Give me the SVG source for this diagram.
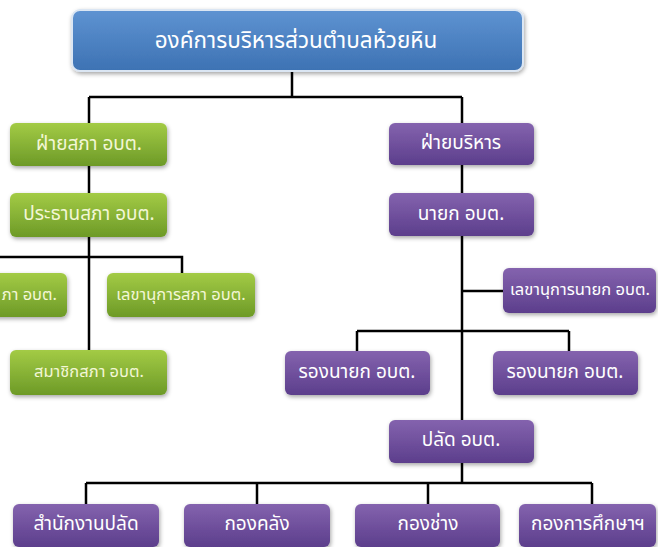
<svg xmlns="http://www.w3.org/2000/svg" width="658" height="547" viewBox="0 0 658 547">
<defs>
<linearGradient id="gBlue" x1="0" y1="0" x2="0" y2="1"><stop offset="0" stop-color="#5e93d2"/><stop offset="1" stop-color="#3d72b3"/></linearGradient>
<linearGradient id="gGreen" x1="0" y1="0" x2="0" y2="1"><stop offset="0" stop-color="#a3cb45"/><stop offset="1" stop-color="#6d9a27"/></linearGradient>
<linearGradient id="gPurple" x1="0" y1="0" x2="0" y2="1"><stop offset="0" stop-color="#8463ae"/><stop offset="1" stop-color="#5c3e8c"/></linearGradient>
<filter id="sh" x="-10%" y="-20%" width="125%" height="150%"><feDropShadow dx="1" dy="2" stdDeviation="2" flood-color="#000" flood-opacity="0.35"/></filter>
</defs>
<style>
.blue{fill:url(#gBlue);stroke:#dbe6f3;stroke-width:2;filter:url(#sh)}
.green{fill:url(#gGreen);filter:url(#sh)}
.purple{fill:url(#gPurple);filter:url(#sh)}
text{font-family:"Noto Sans Thai","Noto Sans","DejaVu Sans",sans-serif;text-anchor:middle;dominant-baseline:central}
.tw{fill:#ffffff;font-size:19px}
.tg{fill:#f3f7d6;font-size:19px}
.ts{font-size:16.5px}
.tt{fill:#ffffff;font-size:22.5px}
.ln{fill:none;stroke:#000;stroke-width:2.5}
</style>
<rect width="658" height="547" fill="#ffffff"/>
<g id="connectors">
<path class="ln" d="M292 72V97M89 97H462M89 97V123M462 97V420"/>
<path class="ln" d="M89 165V193M89 236V350M0 257H182V273"/>
<path class="ln" d="M462 291H503M357 331H569M357 331V351M569 331V351"/>
<path class="ln" d="M462 463V483M86 483H592M86 483V504M257 483V504M428 483V504M592 483V504"/>
</g>
<g id="n-top"><rect class="blue" x="72" y="10" width="451" height="61" rx="8"/><text class="tt" x="296" y="41">องค์การบริหารส่วนตำบลห้วยหิน</text></g>
<g id="n-council"><rect class="green" x="10" y="123" width="157" height="43" rx="6"/><text class="tg" x="89" y="144">ฝ่ายสภา อบต.</text></g>
<g id="n-chair"><rect class="green" x="10" y="193" width="157" height="44" rx="6"/><text class="tg" x="89" y="214">ประธานสภา อบต.</text></g>
<g id="n-vicechair"><rect class="green" x="-90" y="273" width="157" height="44" rx="6"/><text class="tg ts" x="57" y="294" style="text-anchor:end">ภา อบต.</text></g>
<g id="n-councilsec"><rect class="green" x="107" y="273" width="148" height="44" rx="6"/><text class="tg ts" x="181" y="294">เลขานุการสภา อบต.</text></g>
<g id="n-members"><rect class="green" x="10" y="350" width="157" height="45" rx="6"/><text class="tg ts" x="89" y="371">สมาชิกสภา อบต.</text></g>
<g id="n-exec"><rect class="purple" x="389" y="123" width="145" height="42" rx="6"/><text class="tw" x="461" y="143">ฝ่ายบริหาร</text></g>
<g id="n-mayor"><rect class="purple" x="389" y="193" width="145" height="43" rx="6"/><text class="tw" x="461" y="214">นายก อบต.</text></g>
<g id="n-mayorsec"><rect class="purple" x="503" y="268" width="153" height="45" rx="6"/><text class="tw ts" x="580" y="289">เลขานุการนายก อบต.</text></g>
<g id="n-deputy1"><rect class="purple" x="285" y="351" width="145" height="44" rx="6"/><text class="tw" x="357" y="372">รองนายก อบต.</text></g>
<g id="n-deputy2"><rect class="purple" x="493" y="351" width="145" height="44" rx="6"/><text class="tw" x="565" y="372">รองนายก อบต.</text></g>
<g id="n-clerk"><rect class="purple" x="389" y="420" width="145" height="43" rx="6"/><text class="tw" x="461" y="440">ปลัด อบต.</text></g>
<g id="n-office"><rect class="purple" x="13" y="504" width="146" height="43" rx="6"/><text class="tw" x="86" y="524">สำนักงานปลัด</text></g>
<g id="n-finance"><rect class="purple" x="184" y="504" width="146" height="43" rx="6"/><text class="tw" x="257" y="524">กองคลัง</text></g>
<g id="n-works"><rect class="purple" x="355" y="504" width="145" height="43" rx="6"/><text class="tw" x="428" y="524">กองช่าง</text></g>
<g id="n-edu"><rect class="purple" x="519" y="504" width="137" height="43" rx="6"/><text class="tw" x="588" y="524">กองการศึกษาฯ</text></g>
</svg>
